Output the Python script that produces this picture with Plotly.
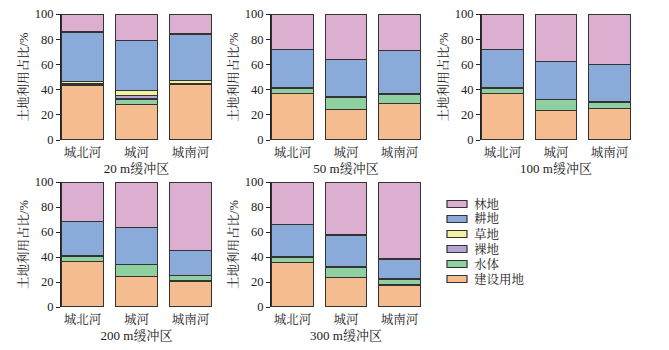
import plotly.graph_objects as go

# ---------------- data ----------------
rivers = ["城北河", "城河", "城南河"]
buffers = ["20 m缓冲区", "50 m缓冲区", "100 m缓冲区", "200 m缓冲区", "300 m缓冲区"]
land_types = ["建设用地", "水体", "裸地", "草地", "耕地", "林地"]

# each list: one row per buffer (20,50,100,200,300 m), values for 城北河, 城河, 城南河 (%)
construction = [[43.2, 27.9, 43.8], [36.6, 23.9, 29.2], [37.1, 23.6, 25.2], [36.3, 24.5, 20.8], [35.8, 23.9, 17.6]]
water        = [[0.6, 4.7, 0.5],    [4.2, 9.8, 7.2],    [4.0, 8.3, 5.0],    [4.0, 9.2, 4.4],    [4.2, 7.4, 4.5]]
bare         = [[0.8, 2.7, 0.5],    [0.8, 1.0, 0.5],    [0.5, 0.5, 0.3],    [0.5, 0.5, 0.3],    [0.5, 0.8, 0.8]]
grass        = [[1.6, 4.2, 2.2],    [0.0, 0.0, 0.0],    [0.0, 0.0, 0.0],    [0.0, 0.0, 0.0],    [0.0, 0.0, 0.0]]
farmland     = [[39.5, 39.5, 37.1], [30.5, 29.2, 33.9], [30.3, 29.7, 29.7], [27.9, 29.7, 19.5], [25.8, 25.5, 15.5]]
forest       = [[14.3, 21.0, 15.9], [27.9, 36.1, 29.2], [28.1, 37.9, 39.8], [31.3, 36.1, 55.0], [33.7, 42.4, 61.6]]

series = [construction, water, bare, grass, farmland, forest]
colors = ["#F5BC8F", "#8FD0A0", "#B5A5D4", "#F3F0A0", "#8AABD9", "#DCAED0"]
y_ticks = [0, 20, 40, 60, 80, 100]

# ---------------- layout geometry (pixels) ----------------
W, H = 669, 350
panel_px = [  # (x0, x1, ytop, ybottom)
    (61, 212, 14, 140),
    (271, 421, 14, 140),
    (481, 631, 14, 140),
    (61, 212, 182, 307),
    (271, 421, 182, 307),
]

FONT = "Liberation Serif, Noto Serif CJK SC, Noto Sans CJK SC, serif"

fig = go.Figure()
layout = dict(
    width=W, height=H,
    margin=dict(l=0, r=0, t=0, b=0),
    paper_bgcolor="white", plot_bgcolor="white",
    barmode="stack",
    showlegend=False,
    font=dict(family=FONT, size=12, color="#222"),
)

for p, (bname, (x0, x1, yt, yb)) in enumerate(zip(buffers, panel_px)):
    sfx = "" if p == 0 else str(p + 1)
    for k, (lt, data, col) in enumerate(zip(land_types, series, colors)):
        fig.add_trace(go.Bar(
            x=rivers, y=data[p], name=lt, width=0.78,
            marker=dict(color=col, line=dict(color="#333333", width=1.2)),
            xaxis="x" + sfx, yaxis="y" + sfx,
            showlegend=False,
        ))
    layout["xaxis" + sfx] = dict(
        domain=[x0 / W, x1 / W], anchor="y" + sfx,
        range=[-0.4, 2.4], showline=False, ticks="", showgrid=False,
        tickfont=dict(size=12.5, family=FONT),
        ticklabelstandoff=3,
        title=dict(text=bname, font=dict(size=13, family=FONT), standoff=5),
        automargin=False,
    )
    layout["yaxis" + sfx] = dict(
        domain=[1 - yb / H, 1 - yt / H], anchor="x" + sfx,
        range=[0, 100], tickvals=y_ticks, showgrid=False, zeroline=False,
        showline=True, linecolor="#222", linewidth=1,
        ticks="outside", ticklen=4, tickcolor="#222",
        tickfont=dict(size=12.5, family=FONT),
        title=dict(text="土地利用占比/%", font=dict(size=12.5, family=FONT), standoff=3),
        automargin=False,
    )

# ---------------- legend (drawn manually to match compact spacing) ----------------
shapes, annotations = [], []
lx0, lx1, ly0, dy = 447, 467, 204, 15
for i, (lt, col) in enumerate(reversed(list(zip(land_types, colors)))):
    cy = ly0 + i * dy
    shapes.append(dict(type="rect", xref="paper", yref="paper",
                       x0=lx0 / W, x1=lx1 / W, y0=1 - (cy + 3.5) / H, y1=1 - (cy - 3.5) / H,
                       fillcolor=col, line=dict(color="#333333", width=1.2)))
    annotations.append(dict(text=lt, xref="paper", yref="paper", x=472 / W, y=1 - cy / H,
                            xanchor="left", yanchor="middle", showarrow=False,
                            font=dict(size=12.5, family=FONT, color="#222")))
layout["shapes"] = shapes
layout["annotations"] = annotations

fig.update_layout(**layout)
fig.write_html("out.html")
